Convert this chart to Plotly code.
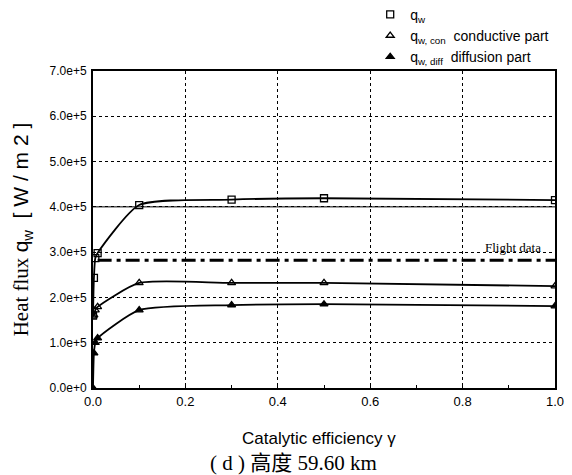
import plotly.graph_objects as go

# Catalytic efficiency values and wall heat flux components (W/m^2)
gamma = [0.0, 0.002, 0.005, 0.01, 0.1, 0.3, 0.5, 1.0]
q_w = [1.60e5, 2.43e5, 2.87e5, 2.98e5, 4.04e5, 4.16e5, 4.19e5, 4.15e5]
q_con = [1.58e5, 1.61e5, 1.72e5, 1.79e5, 2.32e5, 2.32e5, 2.32e5, 2.25e5]
q_diff = [0.0, 0.77e5, 1.00e5, 1.10e5, 1.72e5, 1.83e5, 1.85e5, 1.81e5]

flight_gamma = [0.01, 1.0]
flight_q = [2.82e5, 2.82e5]

y_ticks = [0, 1e5, 2e5, 3e5, 4e5, 5e5, 6e5, 7e5]
y_tick_text = ["0.0e+0", "1.0e+5", "2.0e+5", "3.0e+5", "4.0e+5", "5.0e+5", "6.0e+5", "7.0e+5"]
x_ticks = [0.0, 0.2, 0.4, 0.6, 0.8, 1.0]
x_tick_text = ["0.0", "0.2", "0.4", "0.6", "0.8", "1.0"]

SANS = "Arial, Liberation Sans, Helvetica, sans-serif"
SERIF = "Times New Roman, Liberation Serif, serif"

fig = go.Figure()

series = [
    (q_w, "square-open", "q<sub>w</sub>"),
    (q_con, "triangle-up-open", "q<sub>w, con</sub>  conductive part"),
    (q_diff, "triangle-up", "q<sub>w, diff</sub>  diffusion part"),
]

# smooth curves through each series
for vals, _, _ in series:
    fig.add_trace(go.Scatter(
        x=gamma, y=vals, mode="lines",
        line=dict(color="black", width=1.8, shape="spline", smoothing=0.6),
        showlegend=False, hoverinfo="skip",
    ))

# flight measurement level
fig.add_trace(go.Scatter(
    x=flight_gamma, y=flight_q, mode="lines",
    line=dict(color="black", width=3, dash="14px,5px,4px,5px"),
    showlegend=False,
))

# data markers (these carry the legend)
for vals, sym, name in series:
    fig.add_trace(go.Scatter(
        x=gamma, y=vals, mode="markers", name=name,
        marker=dict(symbol=sym, size=7, color="black",
                    line=dict(color="black", width=1.3)),
    ))

# solid reference line at 4.0e+5
fig.add_shape(type="line", xref="x", yref="y", x0=0, x1=1.0, y0=4e5, y1=4e5,
              line=dict(color="black", width=1), layer="below")

fig.add_annotation(x=0.909, y=3.1e5, xref="paper", yref="y", text="Flight data",
                   xanchor="center", yanchor="middle",
                   showarrow=False, font=dict(family=SERIF, size=13, color="black"))

fig.add_annotation(
    x=-0.154, y=0.5, xref="paper", yref="paper", textangle=-90, showarrow=False,
    xanchor="center", yanchor="middle",
    text='Heat flux <span style="font-family:Arial, Liberation Sans, sans-serif">'
         'q<sub>w</sub>  [ W / m 2 ]</span>',
    font=dict(family=SERIF, size=21, color="black"),
)

fig.add_annotation(
    x=0.49, y=-0.158, xref="paper", yref="paper", showarrow=False,
    xanchor="center", yanchor="middle",
    text="Catalytic efficiency γ", font=dict(family=SANS, size=17, color="black"),
)

fig.add_annotation(
    x=0.435, y=-0.237, xref="paper", yref="paper", showarrow=False,
    xanchor="center", yanchor="middle",
    text="( d ) 高度 59.60 km",
    font=dict(family="Times New Roman, Liberation Serif, Noto Sans CJK SC", size=21, color="black"),
)

fig.update_layout(
    width=572, height=475,
    margin=dict(l=93, r=17, t=71, b=87, autoexpand=False),
    paper_bgcolor="white", plot_bgcolor="white",
    font=dict(family=SANS, color="black"),
    legend=dict(
        x=0.600, y=1.228, xanchor="left", yanchor="top",
        font=dict(family=SANS, size=14, color="black"),
        bgcolor="rgba(0,0,0,0)", tracegroupgap=0, itemwidth=30,
    ),
)

fig.update_xaxes(
    range=[0, 1.0], tickvals=x_ticks, ticktext=x_tick_text,
    showgrid=True, gridcolor="black", gridwidth=1, griddash="dot",
    showline=True, linecolor="black", linewidth=2, mirror=True,
    ticks="inside", ticklen=3, tickcolor="black",
    minor=dict(tickvals=[0.1, 0.3, 0.5, 0.7, 0.9], ticks="inside", ticklen=3, tickcolor="black", showgrid=False),
    tickfont=dict(family=SANS, size=13, color="black"),
    zeroline=False,
)
fig.update_yaxes(
    range=[0, 7e5], tickvals=y_ticks, ticktext=y_tick_text,
    showgrid=True, gridcolor="black", gridwidth=1, griddash="dot",
    showline=True, linecolor="black", linewidth=2, mirror=True,
    ticks="", ticklabelstandoff=2,
    tickfont=dict(family=SANS, size=12, color="black"),
    zeroline=False,
)

fig.write_html("out.html")
